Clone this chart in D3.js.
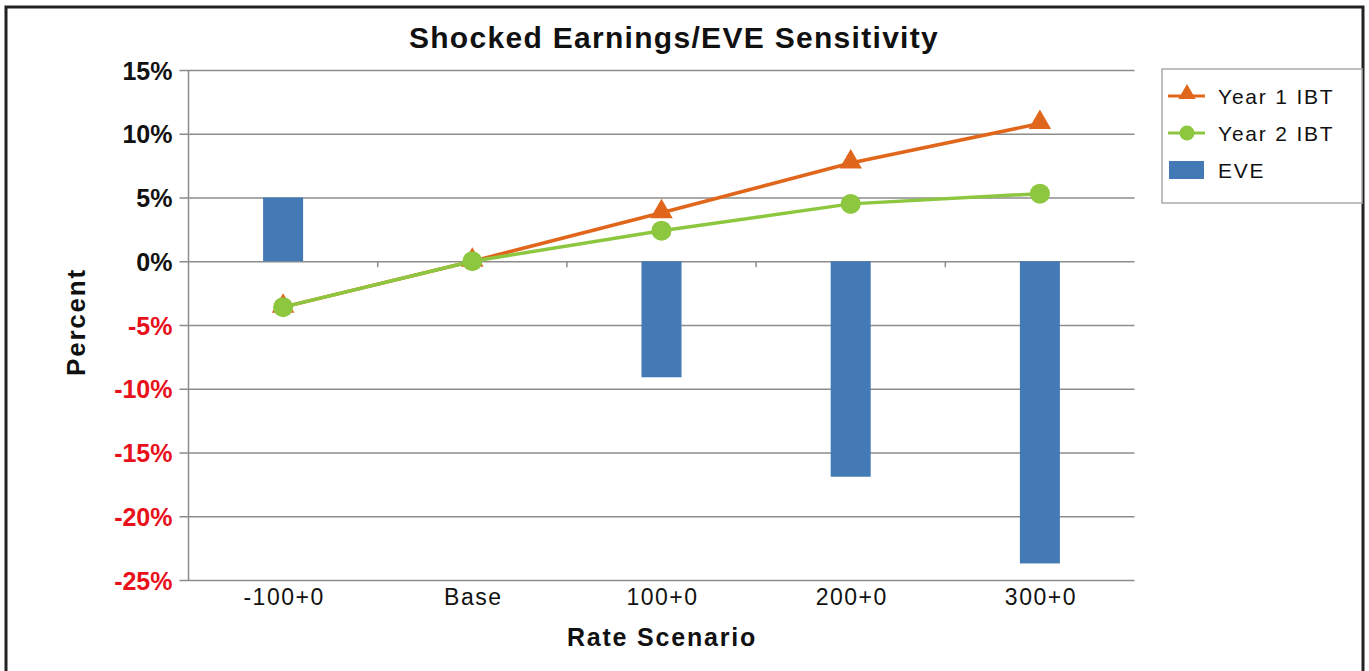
<!DOCTYPE html>
<html>
<head>
<meta charset="utf-8">
<script src="https://cdn.jsdelivr.net/npm/d3@7/dist/d3.min.js"></script>
<style>
  body { margin: 0; background: #fff; }
  text { font-family: "Liberation Sans", Arial, sans-serif; }
</style>
</head>
<body>
<svg id="chart" width="1369" height="671"></svg>
<script>
var scenarios = ["-100+0", "Base", "100+0", "200+0", "300+0"];
var year1_ibt = [-3.6, 0, 3.8, 7.7, 10.8];
var year2_ibt = [-3.6, 0, 2.4, 4.5, 5.3];
var eve = [5.0, 0, -9.1, -16.9, -23.7];
var y_ticks = [15, 10, 5, 0, -5, -10, -15, -20, -25];

var svg = d3.select("#chart");

var plot_left = 188.5,
    plot_right = 1134.5,
    plot_top = 70,
    plot_bottom = 580;

// outer frame
svg.append("rect")
    .attr("x", 6).attr("y", 7)
    .attr("width", 1357).attr("height", 680)
    .attr("fill", "none")
    .attr("stroke", "#222")
    .attr("stroke-width", 3);

var x_scale = d3.scaleBand()
    .domain(scenarios)
    .range([plot_left, plot_right]);

var y_scale = d3.scaleLinear()
    .domain([-25, 15])
    .range([plot_bottom, plot_top]);

// gridlines + y ticks
var y_axis = d3.axisLeft(y_scale)
    .tickValues(y_ticks)
    .tickSize(-(plot_right - plot_left))
    .tickFormat(function (d) { return d + "%"; });

var gy = svg.append("g")
    .attr("transform", "translate(" + plot_left + ",0)")
    .call(y_axis);
gy.select(".domain").remove();
gy.selectAll("line")
    .attr("x1", -9)
    .attr("stroke", "#8c8c8c")
    .attr("stroke-width", 1.5);
gy.selectAll("text")
    .attr("x", -16)
    .attr("dy", "0.36em")
    .style("font-size", "25px")
    .style("font-weight", "bold")
    .attr("fill", function (d) { return d < 0 ? "#e8101a" : "#111"; });

// left axis line
svg.append("line")
    .attr("x1", plot_left).attr("x2", plot_left)
    .attr("y1", plot_top).attr("y2", plot_bottom)
    .attr("stroke", "#8c8c8c").attr("stroke-width", 1.5);

// category boundary ticks on the zero line
var boundaries = scenarios.slice(1).map(function (s) { return x_scale(s); });
svg.selectAll(".cat-tick")
    .data(boundaries)
    .enter().append("line")
    .attr("x1", function (d) { return d; })
    .attr("x2", function (d) { return d; })
    .attr("y1", y_scale(0))
    .attr("y2", y_scale(0) + 6)
    .attr("stroke", "#8c8c8c").attr("stroke-width", 1.5);

// EVE bars
var bar_width = 40;
svg.selectAll(".bar")
    .data(eve)
    .enter().append("rect")
    .attr("x", function (d, i) { return x_scale(scenarios[i]) + x_scale.bandwidth() / 2 - bar_width / 2; })
    .attr("y", function (d) { return y_scale(Math.max(d, 0)); })
    .attr("width", bar_width)
    .attr("height", function (d) { return Math.abs(y_scale(d) - y_scale(0)); })
    .attr("fill", "#4379b5");

// x tick labels
svg.selectAll(".x-label")
    .data(scenarios)
    .enter().append("text")
    .attr("x", function (d) { return x_scale(d) + x_scale.bandwidth() / 2 + 1; })
    .attr("y", 605)
    .attr("text-anchor", "middle")
    .style("font-size", "23px")
    .style("letter-spacing", "1.5px")
    .attr("fill", "#111")
    .text(function (d) { return d; });

var cx = function (d, i) { return x_scale(scenarios[i]) + x_scale.bandwidth() / 2; };
var line = d3.line()
    .x(cx)
    .y(function (d) { return y_scale(d); });

// Year 1 IBT
svg.append("path")
    .datum(year1_ibt)
    .attr("d", line)
    .attr("fill", "none")
    .attr("stroke", "#e0661c")
    .attr("stroke-width", 3.5);
svg.selectAll(".tri")
    .data(year1_ibt)
    .enter().append("path")
    .attr("transform", function (d, i) { return "translate(" + cx(d, i) + "," + (y_scale(d) - 1) + ")"; })
    .attr("d", d3.symbol().type(d3.symbolTriangle).size(220))
    .attr("fill", "#e0661c");

// Year 2 IBT
svg.append("path")
    .datum(year2_ibt)
    .attr("d", line)
    .attr("fill", "none")
    .attr("stroke", "#8dc63f")
    .attr("stroke-width", 3.5);
svg.selectAll(".dot")
    .data(year2_ibt)
    .enter().append("circle")
    .attr("cx", cx)
    .attr("cy", function (d) { return y_scale(d); })
    .attr("r", 10)
    .attr("fill", "#8dc63f");

// titles
svg.append("text")
    .attr("x", 674).attr("y", 48)
    .attr("text-anchor", "middle")
    .style("font-size", "30px")
    .style("font-weight", "bold")
    .style("letter-spacing", "1.3px")
    .attr("fill", "#111")
    .text("Shocked Earnings/EVE Sensitivity");

svg.append("text")
    .attr("x", 662).attr("y", 646)
    .attr("text-anchor", "middle")
    .style("font-size", "25px")
    .style("font-weight", "bold")
    .style("letter-spacing", "1.8px")
    .attr("fill", "#111")
    .text("Rate Scenario");

svg.append("text")
    .attr("transform", "translate(85,322) rotate(-90)")
    .attr("text-anchor", "middle")
    .style("font-size", "26px")
    .style("font-weight", "bold")
    .style("letter-spacing", "1.8px")
    .attr("fill", "#111")
    .text("Percent");

// legend
var legend = svg.append("g");
legend.append("rect")
    .attr("x", 1162).attr("y", 69)
    .attr("width", 200).attr("height", 134)
    .attr("fill", "#fff")
    .attr("stroke", "#aaa").attr("stroke-width", 1.5);

var legend_items = [
  {name: "Year 1 IBT", color: "#e0661c", kind: "tri", y: 96},
  {name: "Year 2 IBT", color: "#8dc63f", kind: "dot", y: 133},
  {name: "EVE", color: "#4379b5", kind: "bar", y: 170}
];
legend_items.forEach(function (item) {
  if (item.kind === "bar") {
    legend.append("rect")
        .attr("x", 1169).attr("y", item.y - 9)
        .attr("width", 35).attr("height", 18)
        .attr("fill", item.color);
  } else {
    legend.append("line")
        .attr("x1", 1168).attr("x2", 1205)
        .attr("y1", item.y).attr("y2", item.y)
        .attr("stroke", item.color).attr("stroke-width", 3);
    if (item.kind === "tri") {
      legend.append("path")
          .attr("transform", "translate(1187," + (item.y - 2) + ")")
          .attr("d", d3.symbol().type(d3.symbolTriangle).size(130))
          .attr("fill", item.color);
    } else {
      legend.append("circle")
          .attr("cx", 1187).attr("cy", item.y).attr("r", 7.5)
          .attr("fill", item.color);
    }
  }
  legend.append("text")
      .attr("x", 1218).attr("y", item.y)
      .attr("dy", "0.36em")
      .style("font-size", "21px")
      .style("letter-spacing", "1.8px")
      .attr("fill", "#111")
      .text(item.name);
});
</script>
</body>
</html>
